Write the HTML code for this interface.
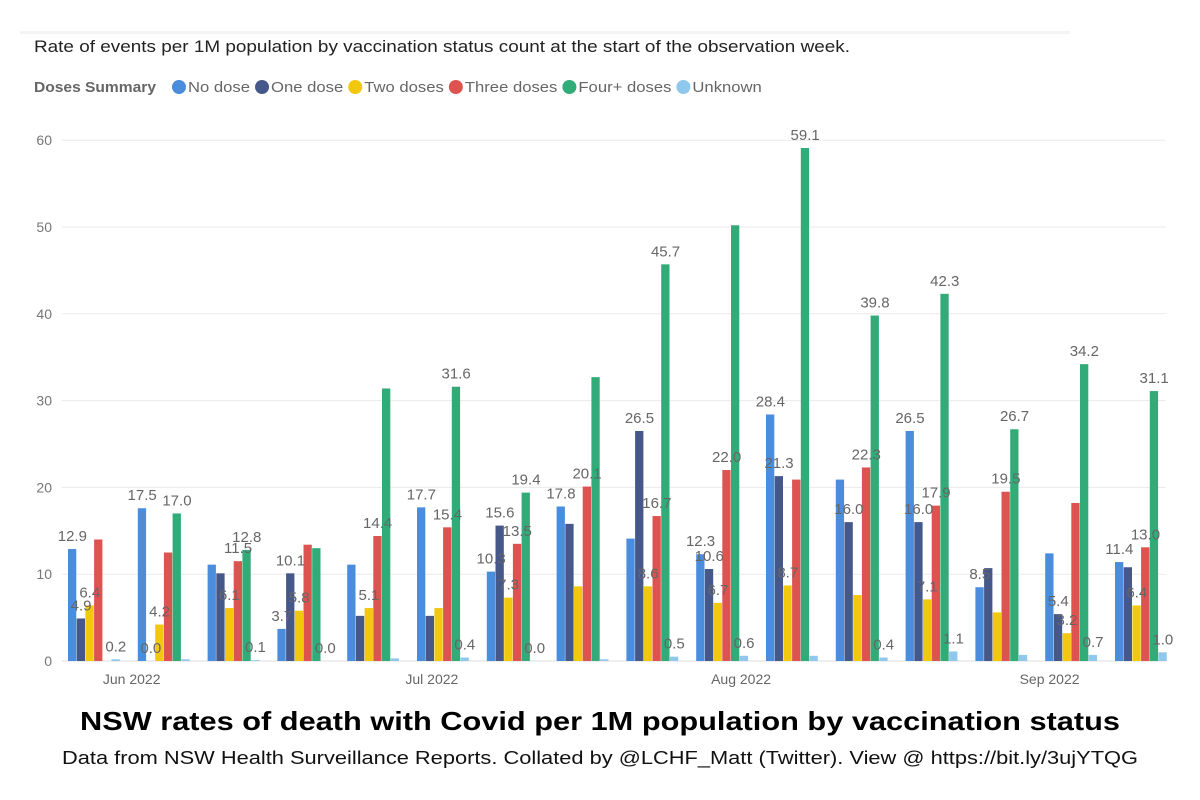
<!DOCTYPE html>
<html><head><meta charset="utf-8"><style>
body{margin:0;background:#fff;width:1200px;height:800px;overflow:hidden;font-family:"Liberation Sans","DejaVu Sans",sans-serif}
svg{display:block}
</style></head><body>
<svg id="chart" width="1200" height="800">
<rect x="20" y="31" width="1050" height="3" fill="#f4f4f4"/>
<text x="34" y="52" font-size="17" fill="#222" textLength="816" lengthAdjust="spacingAndGlyphs">Rate of events per 1M population by vaccination status count at the start of the observation week.</text>
<g id="legend"><text x="34" y="92" font-size="15" font-weight="bold" fill="#666" textLength="122" lengthAdjust="spacingAndGlyphs">Doses Summary</text></g>
<g id="grid"></g><g id="bars"></g><g id="labels"></g><g id="xaxis"></g>
<text x="80" y="730" font-size="26" font-weight="bold" fill="#000" textLength="1040" lengthAdjust="spacingAndGlyphs">NSW rates of death with Covid per 1M population by vaccination status</text>
<text x="62" y="764" font-size="18" fill="#111" textLength="1076" lengthAdjust="spacingAndGlyphs">Data from NSW Health Surveillance Reports. Collated by @LCHF_Matt (Twitter). View @ https://bit.ly/3ujYTQG</text>
</svg>
<script>
const seriesNames=["No dose","One dose","Two doses","Three doses","Four+ doses","Unknown"];
const colors=["#4a8ddc","#46578a","#f2c80f","#dd5350","#31ab78","#8fc8ec"];
const noDose=[12.9,17.6,11.1,3.7,11.1,17.7,10.3,17.8,14.1,12.3,28.4,20.9,26.5,8.5,12.4,11.4];
const oneDose=[4.9,0,10.1,10.1,5.2,5.2,15.6,15.8,26.5,10.6,21.3,16.0,16.0,10.7,5.4,10.8];
const twoDoses=[6.4,4.2,6.1,5.8,6.1,6.1,7.3,8.6,8.6,6.7,8.7,7.6,7.1,5.6,3.2,6.4];
const threeDoses=[14.0,12.5,11.5,13.4,14.4,15.4,13.5,20.1,16.7,22.0,20.9,22.3,17.9,19.5,18.2,13.1];
const fourDoses=[0,17.0,12.8,13.0,31.4,31.6,19.4,32.7,45.7,50.2,59.1,39.8,42.3,26.7,34.2,31.1];
const unknown=[0.2,0.2,0.1,0.0,0.3,0.4,0.0,0.2,0.5,0.6,0.6,0.4,1.1,0.7,0.7,1.0];
const labNo=["12.9","17.5",null,"3.7",null,"17.7","10.3","17.8",null,"12.3","28.4",null,"26.5","8.5",null,"11.4"];
const labOne=["4.9","0.0",null,"10.1",null,null,"15.6",null,"26.5","10.6","21.3","16.0","16.0",null,"5.4",null];
const labTwo=["6.4","4.2","6.1","5.8","5.1",null,"7.3",null,"8.6","6.7","8.7",null,"7.1",null,"3.2","6.4"];
const labThree=[null,null,"11.5",null,"14.4","15.4","13.5","20.1","16.7","22.0",null,"22.3","17.9","19.5",null,"13.0"];
const labFour=[null,"17.0","12.8",null,null,"31.6","19.4",null,"45.7",null,"59.1","39.8","42.3","26.7","34.2","31.1"];
const labUnk=["0.2",null,"0.1","0.0",null,"0.4","0.0",null,"0.5","0.6",null,"0.4","1.1",null,"0.7","1.0"];
const yTicks=[0,10,20,30,40,50,60];
const xTickLabels=["Jun 2022","Jul 2022","Aug 2022","Sep 2022"];
const xTickGroup=[0.97,5.27,9.7,14.12];

const series=[noDose,oneDose,twoDoses,threeDoses,fourDoses,unknown];
const labels=[labNo,labOne,labTwo,labThree,labFour,labUnk];
const NS="http://www.w3.org/2000/svg";
const y0=661,pxPer=8.68,gx0=68,pitch=69.8,bw=8.7;
const y=v=>y0-v*pxPer;
const gx=i=>gx0+i*pitch;
function mk(tag,attrs,parent,text){const e=document.createElementNS(NS,tag);for(const k in attrs)e.setAttribute(k,attrs[k]);if(text!=null)e.textContent=text;parent.appendChild(e);return e;}
const grid=document.getElementById('grid');
yTicks.forEach(t=>{
 const l=mk('line',{x1:62,x2:1166,y1:y(t),y2:y(t),stroke:t===0?'#ddd':'#eaeaea','stroke-width':1},grid);
 
 
 const tx=mk('text',{x:52,y:y(t)+5,'text-anchor':'end','font-size':14,fill:'#777'},grid,String(t));
 
 
});
const bars=document.getElementById('bars'),lg=document.getElementById('labels');
series.forEach((s,k)=>{s.forEach((v,i)=>{
 const x=gx(i)+k*bw;
 const r=mk('rect',{x:x,y:y(v),width:bw-0.4,height:Math.max(0,v*pxPer),fill:colors[k]},bars);
 
 
 const lb=labels[k][i];
 if(lb!=null){
  const t=mk('text',{x:x+bw/2,y:y(v)-8,'text-anchor':'middle','font-size':15,fill:'#666'},lg,lb);
  
  
 }
});});
const xa=document.getElementById('xaxis');
xTickLabels.forEach((s,j)=>{
 const t=mk('text',{x:gx(xTickGroup[j])-4,y:684,'text-anchor':'middle','font-size':14,fill:'#666'},xa,s);
 
 
});
const legend=document.getElementById('legend');
let lx=172;
seriesNames.forEach((n,k)=>{
 const c=mk('circle',{cx:lx+7,cy:87,r:7,fill:colors[k]},legend);
 
 
 const t=mk('text',{x:lx+16,y:92,'font-size':15,fill:'#666'},legend,n);
 
 
 const w=t.getComputedTextLength()*1.11;
 t.setAttribute('textLength',w);
 t.setAttribute('lengthAdjust','spacingAndGlyphs');
 lx+=16+w+5;
});
</script>
</body></html>
